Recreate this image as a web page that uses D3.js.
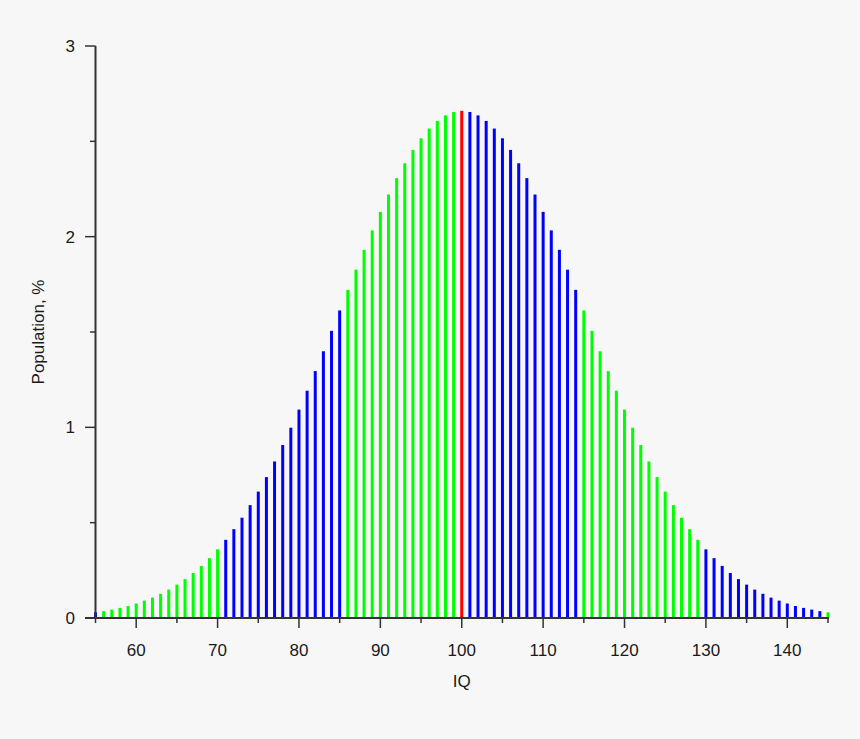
<!DOCTYPE html>
<html>
<head>
<meta charset="utf-8">
<script src="https://cdn.jsdelivr.net/npm/d3@7.9.0/dist/d3.min.js"></script>
<style>
  body { margin: 0; background: #f7f7f7; }
  svg { display: block; font-family: "Liberation Sans", Arial, sans-serif; }
</style>
</head>
<body>
<svg id="chart" width="860" height="739"></svg>
<script>
// IQ scores (one bar each) and the share of population at each score, %
const iqValues = d3.range(55, 146);
const population = [
  0.030, 0.036, 0.044, 0.053, 0.063, 0.076, 0.091, 0.107, 0.127, 0.149,
  0.175, 0.204, 0.236, 0.273, 0.314, 0.360, 0.410, 0.466, 0.526, 0.592,
  0.663, 0.739, 0.821, 0.907, 0.998, 1.093, 1.192, 1.295, 1.399, 1.506,
  1.613, 1.721, 1.827, 1.931, 2.033, 2.130, 2.221, 2.307, 2.385, 2.455,
  2.516, 2.567, 2.607, 2.636, 2.654, 2.660, 2.654, 2.636, 2.607, 2.567,
  2.516, 2.455, 2.385, 2.307, 2.221, 2.130, 2.033, 1.931, 1.827, 1.721,
  1.613, 1.506, 1.399, 1.295, 1.192, 1.093, 0.998, 0.907, 0.821, 0.739,
  0.663, 0.592, 0.526, 0.466, 0.410, 0.360, 0.314, 0.273, 0.236, 0.204,
  0.175, 0.149, 0.127, 0.107, 0.091, 0.076, 0.063, 0.053, 0.044, 0.036,
  0.030
];
// colour band per IQ range
const bandStarts = [55, 56, 71, 86, 100, 101, 115, 130, 145];
const bandColors = ['#0000ff', '#00ff00', '#0000ff', '#00ff00', '#ff0000',
                    '#0000ff', '#00ff00', '#0000ff', '#00ff00'];
const xTicks = [60, 70, 80, 90, 100, 110, 120, 130, 140];
const xMinor = [55, 65, 75, 85, 95, 105, 115, 125, 135, 145];
const yTicks = [0, 1, 2, 3];
const yMinor = [0.5, 1.5, 2.5];

const data = iqValues.map((iq, i) => ({ iq: iq, value: population[i] }));

const svg = d3.select('#chart');
const x = d3.scaleLinear().domain([55, 145]).range([95.5, 828]);
const y = d3.scaleLinear().domain([0, 3]).range([618, 46]);
const band = d3.scaleThreshold().domain(bandStarts.slice(1)).range(bandColors);
const axisColor = '#333';
const textColor = '#1a1a1a';

// bars
svg.append('g')
  .selectAll('rect')
  .data(data)
  .join('rect')
    .attr('x', d => x(d.iq) - 1.5)
    .attr('y', d => y(d.value))
    .attr('width', 3)
    .attr('height', d => y(0) - y(d.value))
    .attr('fill', d => band(d.iq));

// x axis
const xAxis = svg.append('g');
xAxis.append('line')
  .attr('x1', 85).attr('x2', x(145) + 1)
  .attr('y1', y(0)).attr('y2', y(0))
  .attr('stroke', axisColor).attr('stroke-width', 2);
xAxis.selectAll('.major')
  .data(xTicks)
  .join('line')
    .attr('x1', d => x(d)).attr('x2', d => x(d))
    .attr('y1', y(0)).attr('y2', y(0) + 10)
    .attr('stroke', axisColor).attr('stroke-width', 1.5);
xAxis.selectAll('.minor')
  .data(xMinor)
  .join('line')
    .attr('x1', d => x(d)).attr('x2', d => x(d))
    .attr('y1', y(0)).attr('y2', y(0) + 5)
    .attr('stroke', axisColor).attr('stroke-width', 1.5);
xAxis.selectAll('text')
  .data(xTicks)
  .join('text')
    .attr('x', d => x(d))
    .attr('y', 656)
    .attr('text-anchor', 'middle')
    .attr('font-size', 17)
    .attr('fill', textColor)
    .text(d => d);

// y axis
const yAxis = svg.append('g');
yAxis.append('line')
  .attr('x1', x(55)).attr('x2', x(55))
  .attr('y1', y(3)).attr('y2', y(0))
  .attr('stroke', axisColor).attr('stroke-width', 2);
yAxis.selectAll('.major')
  .data(yTicks)
  .join('line')
    .attr('x1', 85).attr('x2', x(55))
    .attr('y1', d => y(d)).attr('y2', d => y(d))
    .attr('stroke', axisColor).attr('stroke-width', 1.5);
yAxis.selectAll('.minor')
  .data(yMinor)
  .join('line')
    .attr('x1', 90).attr('x2', x(55))
    .attr('y1', d => y(d)).attr('y2', d => y(d))
    .attr('stroke', axisColor).attr('stroke-width', 1.5);
yAxis.selectAll('text')
  .data(yTicks)
  .join('text')
    .attr('x', 75)
    .attr('y', d => y(d) + 6)
    .attr('text-anchor', 'end')
    .attr('font-size', 17)
    .attr('fill', textColor)
    .text(d => d);

// axis titles
svg.append('text')
  .attr('x', x(100)).attr('y', 687)
  .attr('text-anchor', 'middle')
  .attr('font-size', 17)
  .attr('fill', textColor)
  .text('IQ');
svg.append('text')
  .attr('transform', 'translate(44,332) rotate(-90)')
  .attr('text-anchor', 'middle')
  .attr('font-size', 17)
  .attr('fill', textColor)
  .text('Population, %');
</script>
</body>
</html>
